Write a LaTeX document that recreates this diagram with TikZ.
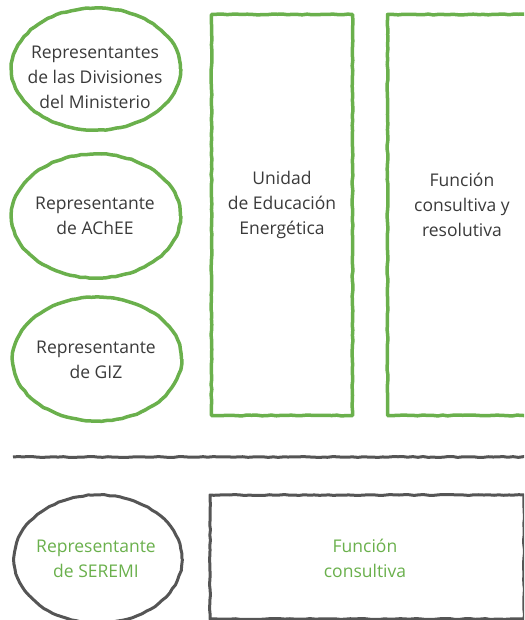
\documentclass[tikz,border=0pt]{standalone}
\usepackage{fontspec}
\setmainfont{Open Sans}
\usetikzlibrary{shapes.geometric,decorations.pathmorphing}
\definecolor{verdeUnidad}{HTML}{6AB04C}
\definecolor{grisTrazo}{HTML}{555555}
\definecolor{grisTexto}{HTML}{3A3A3A}
\newcommand{\colorTikzV}{verdeUnidad}
\newcommand{\colorTikzG}{grisTrazo}

\tikzset{
  trazo/.style={decorate, decoration={random steps, segment length=5pt, amplitude=0.45pt}, line join=round},
  miembro/.style={ellipse, draw, trazo, line width=3.5pt, minimum width=169pt, minimum height=124pt, inner sep=0pt},
  funcion/.style={rectangle, draw, trazo, line width=3.5pt, inner sep=0pt},
  texto/.style={align=center, inner sep=0pt, font=\fontsize{17.5}{25}\selectfont, text=grisTexto}
}

\begin{document}
\begin{tikzpicture}[x=1pt, y=-1pt]
      \useasboundingbox (0, 0) rectangle (524, 620);
      \clip (0, 0) rectangle (524, 620);

      % comite
      \node[miembro, draw=\colorTikzV, minimum height=122pt] (divisiones) at (96, 69) {};
      \node[miembro, draw=\colorTikzV] (achee) at (96, 216) {};
      \node[miembro, draw=\colorTikzV] (giz) at (97, 359) {};

      \node[texto] (divisionesTxt) at (95, 77) {Representantes\\de las Divisiones\\del Ministerio};
      \node[texto] (acheeTxt) at (95, 216) {Representante\\de AChEE};
      \node[texto] (gizTxt) at (96, 360) {Representante\\de GIZ};

      \node[funcion, draw=\colorTikzV, minimum width=141pt, minimum height=401pt] (unidad) at (282, 215) {};
      \node[funcion, draw=\colorTikzV, minimum width=151pt, minimum height=401pt] (resolutiva) at (463, 215) {};

      \node[texto] (unidadTxt) at (282, 205) {Unidad\\de Educación\\Energética};
      \node[texto] (resolutivaTxt) at (462, 205) {Función\\consultiva y\\resolutiva};

      % separador
      \coordinate (sepIzq) at (13, 457);
      \coordinate (sepDer) at (530, 457);
      \draw[trazo, color=\colorTikzG, line width=3pt] (sepIzq) -- (sepDer);

      % seremi
      \node[miembro, draw=\colorTikzG, line width=3pt, minimum width=168pt, minimum height=128pt] (seremi) at (98, 559) {};
      \node[funcion, draw=\colorTikzG, line width=3pt, minimum width=314pt, minimum height=124pt] (consultiva) at (367, 557) {};

      \node[texto, text=\colorTikzV] (seremiTxt) at (96, 559) {Representante\\de SEREMI};
      \node[texto, text=\colorTikzV] (consultivaTxt) at (365, 558) {Función\\consultiva};
\end{tikzpicture}
\end{document}
